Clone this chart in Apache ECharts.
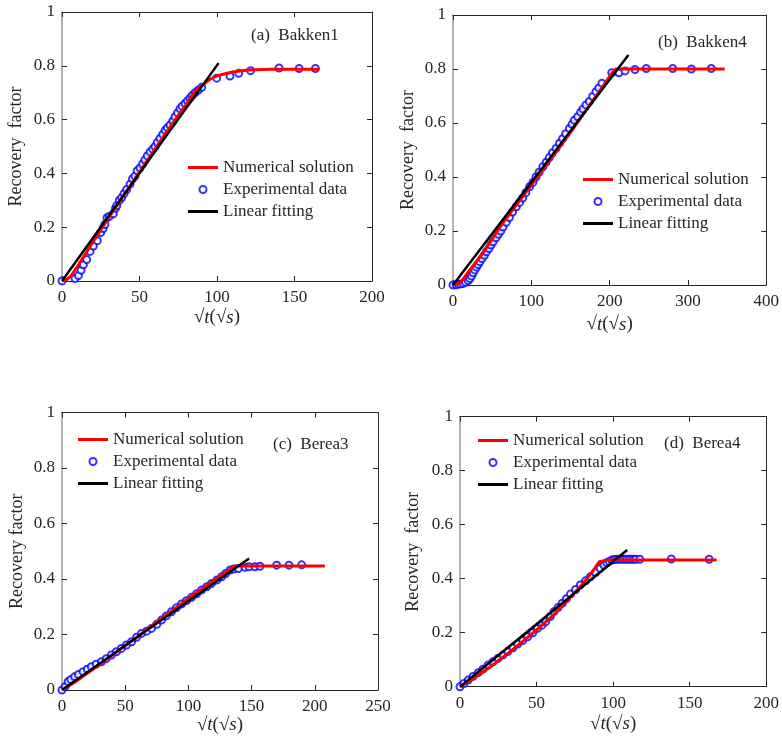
<!DOCTYPE html>
<html>
<head>
<meta charset="utf-8">
<script src="https://cdn.jsdelivr.net/npm/echarts@6.0.0/dist/echarts.min.js"></script>
<style>
  html, body { margin: 0; padding: 0; background: #fff; }
  #chart { width: 782px; height: 744px; }
</style>
</head>
<body>
<div id="chart"></div>
<script>
"use strict";

// ---- data: [sqrt(t), recovery factor] ----
const bakken1Num = [[0, 0], [3, 0.005], [6, 0.02], [10, 0.055], [15, 0.1], [20, 0.145], [25, 0.19], [30, 0.235], [40, 0.32], [50, 0.405], [60, 0.49], [70, 0.575], [80, 0.655], [85, 0.7], [90, 0.725], [95, 0.748], [100, 0.763], [110, 0.777], [120, 0.784], [135, 0.787], [166, 0.787]];
const bakken1Exp = [[0, 0], [8.4, 0.009], [10.6, 0.02], [12.3, 0.04], [13.8, 0.06], [15.9, 0.08], [18.1, 0.11], [20.2, 0.13], [22.8, 0.15], [25, 0.18], [26.5, 0.195], [27.7, 0.21], [29, 0.235], [30.5, 0.24], [33.1, 0.25], [34.5, 0.27], [35.3, 0.28], [37, 0.3], [38.5, 0.31], [40, 0.325], [41.7, 0.34], [43.9, 0.36], [45.5, 0.38], [47.1, 0.39], [48.5, 0.41], [50.3, 0.42], [52, 0.435], [53.5, 0.45], [55, 0.465], [56.8, 0.48], [58.5, 0.49], [60, 0.5], [61.5, 0.515], [63.2, 0.53], [65, 0.545], [66.5, 0.56], [68, 0.57], [69.7, 0.58], [71.5, 0.595], [72.9, 0.61], [74.5, 0.625], [76.1, 0.64], [77.5, 0.65], [79.4, 0.66], [81, 0.67], [82.6, 0.68], [84, 0.69], [85.8, 0.7], [88, 0.71], [90.1, 0.72], [99.8, 0.754], [108.4, 0.762], [114, 0.772], [121.7, 0.782], [140, 0.792], [153, 0.79], [163.5, 0.79]];
const bakken1Fit = [[0, 0], [101, 0.81]];

const bakken4Num = [[0, 0], [9, 0.006], [15, 0.03], [20, 0.05], [28, 0.08], [40, 0.125], [60, 0.215], [100, 0.37], [150, 0.565], [190, 0.73], [203, 0.785], [208, 0.8], [347, 0.8]];
const bakken4Exp = [[0, 0], [4, 0.001], [6.8, 0.003], [10, 0.004], [13.1, 0.006], [16, 0.01], [19.5, 0.016], [21.5, 0.024], [23.7, 0.033], [25.8, 0.045], [27.9, 0.056], [30, 0.066], [32, 0.076], [34.3, 0.086], [37, 0.098], [40, 0.11], [42.7, 0.123], [46, 0.135], [48.5, 0.148], [51.2, 0.16], [55, 0.175], [58, 0.188], [61, 0.2], [63.9, 0.215], [68, 0.232], [72, 0.25], [76, 0.27], [80.8, 0.29], [85, 0.306], [89, 0.322], [93, 0.342], [97.8, 0.364], [102, 0.38], [106, 0.4], [110, 0.418], [114.7, 0.438], [119, 0.455], [123, 0.472], [127, 0.49], [131.6, 0.506], [136, 0.525], [140, 0.542], [144, 0.56], [148.6, 0.58], [152, 0.595], [155, 0.61], [159.2, 0.623], [163, 0.64], [166, 0.652], [169.8, 0.667], [174, 0.68], [178.3, 0.698], [182.5, 0.716], [186, 0.73], [190.1, 0.747], [202.8, 0.786], [212, 0.786], [219.7, 0.793], [232.4, 0.798], [246.8, 0.802], [280.6, 0.802], [304.4, 0.8], [329.8, 0.802]];
const bakken4Fit = [[0, 0], [224, 0.852]];

const berea3Num = [[0, 0], [10, 0.028], [20, 0.06], [30, 0.093], [40, 0.126], [50, 0.16], [60, 0.193], [70, 0.228], [80, 0.262], [90, 0.296], [100, 0.33], [110, 0.362], [120, 0.395], [128, 0.42], [134, 0.44], [137, 0.447], [208, 0.447]];
const berea3Exp = [[0, 0], [2.5, 0.012], [4.8, 0.03], [7, 0.038], [10, 0.048], [13, 0.056], [16.6, 0.066], [20, 0.075], [23.2, 0.084], [27, 0.093], [31.2, 0.102], [35, 0.113], [39.1, 0.126], [43, 0.138], [47, 0.15], [51, 0.162], [55, 0.174], [59, 0.19], [62.9, 0.204], [67, 0.212], [70.8, 0.222], [75, 0.237], [78.7, 0.252], [82.5, 0.267], [86.6, 0.282], [90.5, 0.296], [94.6, 0.31], [98.5, 0.322], [102.5, 0.334], [106.5, 0.347], [110.4, 0.36], [114.5, 0.372], [118.3, 0.384], [122.5, 0.396], [126.3, 0.408], [129.5, 0.42], [132.9, 0.432], [136, 0.436], [139.5, 0.438], [144.8, 0.442], [148, 0.444], [152.6, 0.444], [156.6, 0.446], [169.8, 0.45], [179.6, 0.45], [189.6, 0.451]];
const berea3Fit = [[0, 0], [148, 0.474]];

const berea4Num = [[0, 0], [10, 0.035], [20, 0.075], [30, 0.118], [40, 0.163], [50, 0.21], [60, 0.26], [70, 0.318], [80, 0.38], [87, 0.43], [91, 0.463], [95, 0.468], [100, 0.469], [167.6, 0.469]];
const berea4Exp = [[0, 0], [2.5, 0.012], [5.4, 0.025], [8.5, 0.038], [11.9, 0.052], [15, 0.065], [18.3, 0.08], [21.5, 0.092], [24.8, 0.105], [28, 0.117], [31.2, 0.13], [34.5, 0.144], [37.7, 0.158], [41, 0.171], [44.2, 0.185], [47.5, 0.2], [50.6, 0.216], [53.5, 0.228], [56, 0.241], [59, 0.26], [61.4, 0.278], [64, 0.293], [66.8, 0.309], [69.5, 0.326], [72.2, 0.343], [75.5, 0.36], [78.6, 0.377], [82, 0.392], [85.1, 0.407], [88.5, 0.423], [91.5, 0.438], [94, 0.45], [95.9, 0.459], [97.5, 0.464], [99.1, 0.469], [100.7, 0.471], [102.3, 0.472], [104, 0.472], [105.6, 0.472], [107.2, 0.472], [108.8, 0.472], [110.4, 0.472], [112, 0.472], [113.5, 0.472], [114.9, 0.472], [117.4, 0.472], [138, 0.473], [162.7, 0.472]];
const berea4Fit = [[0, 0], [109.2, 0.506]];

const panelTitles = ["(a)  Bakken1", "(b)  Bakken4", "(c)  Berea3", "(d)  Berea4"];
const yNames = ["Recovery  factor", "Recovery  factor", "Recovery factor", "Recovery  factor"];
const xMaxes = [200, 400, 250, 200];
const xSteps = [50, 100, 50, 50];
const seriesNames = ["Numerical solution", "Experimental data", "Linear fitting"];

const FONT = "'Liberation Serif', 'DejaVu Serif', serif";
const INK = "#262626";
const BAR_ICON = "path://M0,0H30V3H0Z";

const panels = [
  { num: bakken1Num, exp: bakken1Exp, fit: bakken1Fit,
    grid: { left: 62, top: 12, width: 310, height: 269 },
    legend: { left: 188, top: 159 }, title: { left: 251, top: 27 }, xGap: 27, yGap: 37 },
  { num: bakken4Num, exp: bakken4Exp, fit: bakken4Fit,
    grid: { left: 453, top: 15, width: 315, height: 270 },
    legend: { left: 583, top: 171 }, title: { left: 658, top: 34 }, xGap: 30, yGap: 36 },
  { num: berea3Num, exp: berea3Exp, fit: berea3Fit,
    grid: { left: 62, top: 412.5, width: 316, height: 277.5 },
    legend: { left: 78, top: 431 }, title: { left: 273, top: 436 }, xGap: 23, yGap: 36 },
  { num: berea4Num, exp: berea4Exp, fit: berea4Fit,
    grid: { left: 460, top: 416.7, width: 309, height: 270 },
    legend: { left: 478, top: 432 }, title: { left: 664, top: 435 }, xGap: 28, yGap: 38 },
];

const frameLine = { show: true, onZero: false, lineStyle: { color: INK, width: 1 } };
const innerTick = { show: true, inside: true, length: 5, lineStyle: { color: INK } };
const tickLabel = { fontFamily: FONT, fontSize: 17, color: INK };

const xNameRich = {
  r: { fontFamily: FONT, fontSize: 19, color: INK },
  i: { fontFamily: FONT, fontSize: 19, fontStyle: "italic", color: INK },
};

const grid = [], xAxis = [], yAxis = [], series = [], legend = [], title = [];

panels.forEach((p, k) => {
  grid.push(p.grid);

  xAxis.push({
    gridIndex: k, type: "value", min: 0, max: xMaxes[k], interval: xSteps[k],
    position: "bottom",
    axisLine: frameLine, axisTick: innerTick,
    axisLabel: { ...tickLabel, margin: 8 },
    splitLine: { show: false },
    name: "{r|√}{i|t}{r|(√}{i|s}{r|)}",
    nameLocation: "middle", nameGap: p.xGap,
    nameTextStyle: { rich: xNameRich },
  });
  xAxis.push({
    gridIndex: k, type: "value", min: 0, max: xMaxes[k], interval: xSteps[k],
    position: "top",
    axisLine: frameLine, axisTick: innerTick,
    axisLabel: { show: false }, splitLine: { show: false },
  });

  yAxis.push({
    gridIndex: k, type: "value", min: 0, max: 1, interval: 0.2,
    position: "left",
    axisLine: { show: true, onZero: false, lineStyle: { color: "#9a9a9a", width: 1.5 } },
    axisTick: innerTick,
    axisLabel: { ...tickLabel, margin: 7 },
    splitLine: { show: false },
    name: yNames[k], nameLocation: "middle", nameGap: p.yGap,
    nameTextStyle: { fontFamily: FONT, fontSize: 18, color: INK },
  });
  yAxis.push({
    gridIndex: k, type: "value", min: 0, max: 1, interval: 0.2,
    position: "right",
    axisLine: frameLine, axisTick: innerTick,
    axisLabel: { show: false }, splitLine: { show: false },
  });

  const ax = { xAxisIndex: 2 * k, yAxisIndex: 2 * k };

  series.push({
    ...ax, type: "line", name: seriesNames[0], data: p.num,
    symbol: "none", silent: true,
    lineStyle: { color: "#ff0000", width: 3 }, itemStyle: { color: "#ff0000" },
  });
  series.push({
    ...ax, type: "scatter", name: seriesNames[1], data: p.exp,
    symbol: "emptyCircle", symbolSize: 7, silent: true,
    itemStyle: { color: "#0000ff", borderColor: "#0000ff", borderWidth: 0.9 },
  });
  series.push({
    ...ax, type: "line", name: seriesNames[2], data: p.fit,
    symbol: "none", silent: true,
    lineStyle: { color: "#000000", width: 2.5 }, itemStyle: { color: "#000000" },
  });

  legend.push({
    data: [
      { name: seriesNames[0], icon: BAR_ICON, itemStyle: { color: "#ff0000" } },
      { name: seriesNames[1], icon: "emptyCircle" },
      { name: seriesNames[2], icon: BAR_ICON, itemStyle: { color: "#000000" } },
    ],
    orient: "vertical",
    left: p.legend.left, top: p.legend.top,
    padding: 0, itemGap: 5, itemWidth: 30, itemHeight: 7,
    selectedMode: false,
    textStyle: { fontFamily: FONT, fontSize: 17, color: INK },
  });

  title.push({
    text: panelTitles[k], left: p.title.left, top: p.title.top, padding: 0,
    textStyle: { fontFamily: FONT, fontSize: 17, fontWeight: "normal", color: INK },
  });
});

const chart = echarts.init(document.getElementById("chart"), null, { renderer: "canvas" });
chart.setOption({
  backgroundColor: "#ffffff",
  animation: false,
  title, legend, grid, xAxis, yAxis, series,
});
</script>
</body>
</html>
